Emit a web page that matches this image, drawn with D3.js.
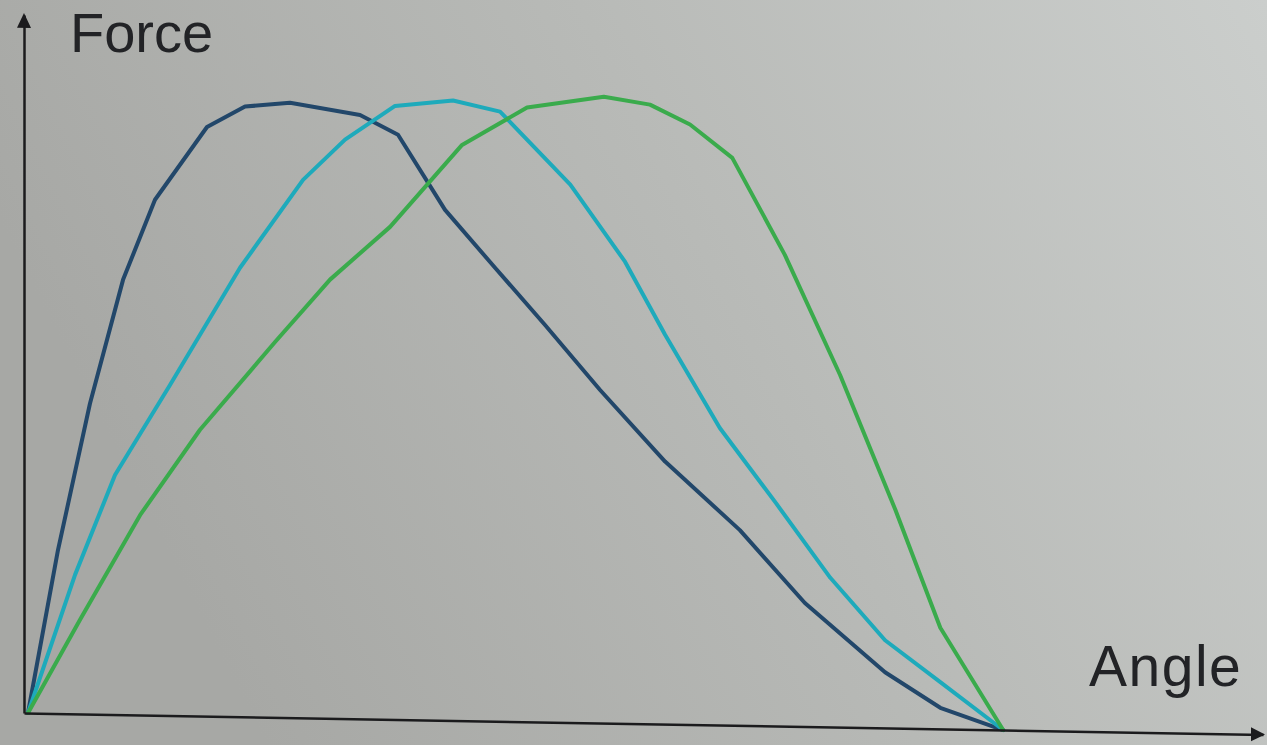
<!DOCTYPE html>
<html>
<head>
<meta charset="utf-8">
<script src="https://cdn.jsdelivr.net/npm/d3@7"></script>
<style>
  html, body { margin: 0; padding: 0; overflow: hidden; }
  svg { display: block; }
</style>
</head>
<body>
<svg></svg>
<script>
// angle (deg) for each series point, force in % of axis scale
const angleDark  = [0, 5.53, 11.44, 17.54, 23.44, 33.04, 40.06, 48.37, 61.29, 68.30, 76.98, 86.21, 95.44, 105.6, 117.6, 131.4, 143.4, 158.2, 168.4, 180];
const forceDark  = [0, 25.5, 48.5, 67.9, 80.5, 92.0, 95.3, 96.0, 94.3, 91.3, 79.7, 70.8, 62.0, 52.0, 41.0, 30.5, 19.3, 8.7, 3.3, 0];

const angleCyan  = [0, 8.68, 16.06, 26.21, 39.14, 50.77, 58.52, 67.75, 78.46, 87.13, 100.1, 110.2, 117.6, 127.7, 137.9, 148.1, 158.2, 168.4, 180];
const forceCyan  = [0, 21.7, 37.4, 51.6, 70.1, 84.0, 90.4, 95.8, 96.8, 95.2, 84.0, 72.1, 60.8, 46.4, 35.0, 23.3, 13.7, 7.3, 0];

const angleGreen = [0, 9.60, 20.68, 31.75, 45.60, 55.75, 66.83, 80.12, 92.12, 106.3, 114.8, 122.2, 130.0, 139.7, 149.9, 160.1, 168.4, 180];
const forceGreen = [0, 14.7, 31.2, 44.7, 58.6, 68.5, 76.9, 89.9, 95.9, 97.8, 96.7, 93.7, 88.6, 73.6, 55.0, 34.1, 15.8, 0];

const seriesNames = ["dark", "cyan", "green"];
const xLabel = "Angle";
const yLabel = "Force";

const width = 1267, height = 745;
const origin = { x: 28, y: 713 };

const svg = d3.select("svg")
    .attr("width", width)
    .attr("height", height);

// photographed screen: grey gradient background
const defs = svg.append("defs");
const grad = defs.append("linearGradient")
    .attr("id", "bg")
    .attr("x1", "0").attr("y1", "0.3")
    .attr("x2", "1").attr("y2", "0");
grad.append("stop").attr("offset", "0").attr("stop-color", "#a7a8a5");
grad.append("stop").attr("offset", "0.5").attr("stop-color", "#b8bab7");
grad.append("stop").attr("offset", "1").attr("stop-color", "#cbcecc");

svg.append("rect")
    .attr("width", width)
    .attr("height", height)
    .attr("fill", "url(#bg)");

const x = d3.scaleLinear()
    .domain([0, 228.7])
    .range([0, 1239]);

const y = d3.scaleLinear()
    .domain([0, 109])
    .range([0, -698]);

const color = d3.scaleOrdinal()
    .domain(seriesNames)
    .range(["#22476a", "#1eaabb", "#3aab4c"]);

// slight skew, like the photo of the screen
const g = svg.append("g")
    .attr("transform", `translate(${origin.x},${origin.y}) skewY(1)`);

const series = [
    { name: "dark",  values: angleDark.map((a, i) => ({ a, f: forceDark[i] })) },
    { name: "cyan",  values: angleCyan.map((a, i) => ({ a, f: forceCyan[i] })) },
    { name: "green", values: angleGreen.map((a, i) => ({ a, f: forceGreen[i] })) }
];

const line = d3.line()
    .x(d => x(d.a))
    .y(d => y(d.f));

g.selectAll(".curve")
    .data(series)
    .enter()
    .append("path")
    .attr("class", "curve")
    .attr("d", d => line(d.values))
    .attr("fill", "none")
    .attr("stroke", d => color(d.name))
    .attr("stroke-width", 4)
    .attr("stroke-linejoin", "round")
    .attr("stroke-linecap", "round");

// axes: only the domain lines, no ticks
const xAxis = g.append("g")
    .attr("transform", "translate(-4,0)")
    .call(d3.axisBottom(x).tickValues([]).tickSizeOuter(0));
const yAxis = g.append("g")
    .attr("transform", "translate(-4,0)")
    .call(d3.axisLeft(y).tickValues([]).tickSizeOuter(0));

[xAxis, yAxis].forEach(a => a.select(".domain")
    .attr("stroke", "#1b1b1d")
    .attr("stroke-width", 2.5));

// arrow heads
g.append("path")
    .attr("d", `M${-4},${y(109) - 2} L${-11},${y(109) + 13} L${3},${y(109) + 13} Z`)
    .attr("fill", "#1b1b1d");
g.append("path")
    .attr("d", `M${x(228.7) - 2},0 L${x(228.7) - 16},-7 L${x(228.7) - 16},7 Z`)
    .attr("fill", "#1b1b1d");

svg.append("text")
    .attr("x", 70)
    .attr("y", 52)
    .attr("font-family", "Liberation Sans, Arial, sans-serif")
    .attr("font-size", 56)
    .attr("fill", "#222326")
    .text(yLabel);

svg.append("text")
    .attr("x", 1089)
    .attr("y", 686)
    .attr("font-family", "Liberation Sans, Arial, sans-serif")
    .attr("font-size", 57)
    .attr("letter-spacing", 1.5)
    .attr("fill", "#222326")
    .text(xLabel);
</script>
</body>
</html>
